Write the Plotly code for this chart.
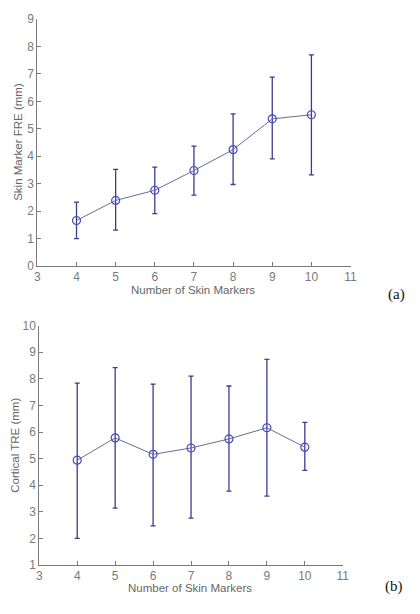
import plotly.graph_objects as go

markers = [4, 5, 6, 7, 8, 9, 10]

fre_mean = [1.66, 2.39, 2.76, 3.48, 4.24, 5.36, 5.51]
fre_upper = [2.33, 3.52, 3.60, 4.37, 5.54, 6.88, 7.69]
fre_lower = [1.00, 1.31, 1.91, 2.58, 2.97, 3.90, 3.32]

tre_mean = [4.94, 5.78, 5.16, 5.40, 5.74, 6.16, 5.43]
tre_upper = [7.84, 8.42, 7.80, 8.10, 7.73, 8.73, 6.36]
tre_lower = [2.00, 3.14, 2.47, 2.76, 3.78, 3.59, 4.56]

x_ticks = [3, 4, 5, 6, 7, 8, 9, 10, 11]
fre_ticks = [0, 1, 2, 3, 4, 5, 6, 7, 8, 9]
tre_ticks = [1, 2, 3, 4, 5, 6, 7, 8, 9, 10]

OFF = 8  # default page body margin
W, H = 420 - OFF, 614 - OFF
ERR_COLOR = "#3b3b8f"
LINE_COLOR = "#6a6a9a"
MARK_COLOR = "#4a4ac0"
AX_COLOR = "#7a7a7a"

fig = go.Figure()

def add_series(mean, up, lo, xa, ya):
    fig.add_trace(go.Scatter(
        x=markers, y=mean, xaxis=xa, yaxis=ya,
        mode="lines+markers",
        line=dict(color=LINE_COLOR, width=1),
        marker=dict(symbol="circle-open", size=8, color=MARK_COLOR, line=dict(width=1.2)),
        error_y=dict(type="data", symmetric=False,
                     array=[u - m for u, m in zip(up, mean)],
                     arrayminus=[m - l for m, l in zip(mean, lo)],
                     color=ERR_COLOR, thickness=1.3, width=2.5),
        showlegend=False, hoverinfo="skip"))

add_series(fre_mean, fre_upper, fre_lower, "x", "y")
add_series(tre_mean, tre_upper, tre_lower, "x2", "y2")

def px_x(p):
    return (p - OFF) / W

def px_y(p):
    return 1 - (p - OFF) / H

tickfont = dict(family="Arial, Liberation Sans, sans-serif", size=12, color=AX_COLOR)
axis_common = dict(showgrid=False, zeroline=False, showline=True, linecolor=AX_COLOR,
                   linewidth=1, ticks="inside", ticklen=4, tickcolor=AX_COLOR,
                   tickfont=tickfont, mirror=False)

fig.update_layout(
    width=W, height=H,
    margin=dict(l=0, r=0, t=0, b=0),
    paper_bgcolor="white", plot_bgcolor="white",
    xaxis=dict(domain=[px_x(35), px_x(356)], range=[3, 11], tickvals=x_ticks,
               anchor="y", **axis_common),
    yaxis=dict(domain=[px_y(265), px_y(12)], range=[0, 9], tickvals=fre_ticks,
               anchor="x", **axis_common),
    xaxis2=dict(domain=[px_x(37), px_x(348)], range=[3, 11], tickvals=x_ticks,
                anchor="y2", **axis_common),
    yaxis2=dict(domain=[px_y(571), px_y(326)], range=[1, 10], tickvals=tre_ticks,
                anchor="x2", **axis_common),
)

title_font = dict(family="Arial, Liberation Sans, sans-serif", size=11.5, color="#666666")
serif_font = dict(family="Liberation Serif, Times New Roman, serif", size=15, color="#111111")

ann = [
    dict(text="Number of Skin Markers", x=px_x(195), y=px_y(289), font=title_font),
    dict(text="Skin Marker FRE (mm)", x=px_x(15), y=px_y(138), font=title_font, textangle=-90),
    dict(text="Number of Skin Markers", x=px_x(191), y=px_y(595), font=title_font),
    dict(text="Cortical TRE (mm)", x=px_x(12), y=px_y(448), font=title_font, textangle=-90),
    dict(text="(a)", x=px_x(403), y=px_y(294), font=serif_font),
    dict(text="(b)", x=px_x(401), y=px_y(593), font=serif_font),
]
for a in ann:
    fig.add_annotation(xref="paper", yref="paper", showarrow=False,
                       xanchor="center", yanchor="middle", **a)

fig.write_html("out.html")
